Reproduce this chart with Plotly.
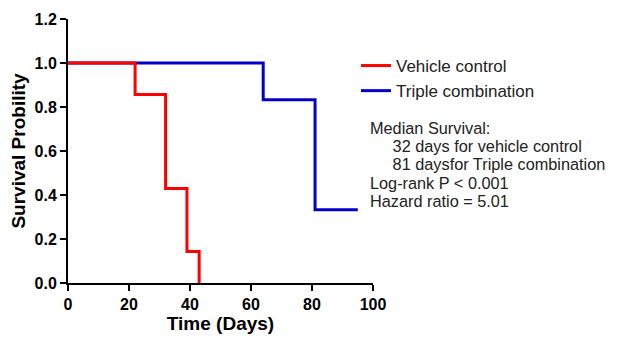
import plotly.graph_objects as go

# Data
vehicle_days = [0, 22, 32, 39, 43]
vehicle_surv = [1.0, 0.857, 0.429, 0.143, 0.0]
triple_days = [0, 64, 81, 95]
triple_surv = [1.0, 0.833, 0.333, 0.333]

x_ticks = [0, 20, 40, 60, 80, 100]
y_ticks = [0.0, 0.2, 0.4, 0.6, 0.8, 1.0, 1.2]

stats_lines = [
    "Median Survival:",
    "\u00a0\u00a0\u00a0\u00a0\u00a032 days for vehicle control",
    "\u00a0\u00a0\u00a0\u00a0\u00a081 daysfor Triple combination",
    "Log-rank P < 0.001",
    "Hazard ratio = 5.01",
]

# the page body adds an 8px offset; work in window pixels
OFF = 8
WIN_W, WIN_H = 618, 337
W, H = WIN_W - OFF, WIN_H - OFF
PL, PR, PT, PB = 68, 373, 19, 283  # plot area in window pixels
ML, MT = PL - OFF, PT - OFF
MR, MB = W - (PR - OFF), H - (PB - OFF)
PW, PH = PR - PL, PB - PT

def px_x(p):
    return (p - PL) / PW

def px_y(p):
    return (PB - p) / PH

fig = go.Figure()
fig.add_trace(go.Scatter(
    x=triple_days, y=triple_surv, mode="lines", line_shape="hv",
    line=dict(color="#0000C8", width=3), name="Triple combination",
    legendrank=2, cliponaxis=False))
fig.add_trace(go.Scatter(
    x=vehicle_days, y=vehicle_surv, mode="lines", line_shape="hv",
    line=dict(color="#FF0000", width=3), name="Vehicle control",
    legendrank=1, cliponaxis=False))

font_fam = "Liberation Sans, Arial, sans-serif"
axis_common = dict(
    showline=True, linecolor="black", linewidth=2,
    ticks="outside", ticklen=6, tickwidth=2, tickcolor="black",
    showgrid=False, zeroline=False, automargin=False,
    tickfont=dict(family=font_fam, size=16, color="black", weight="bold"),
)

fig.update_layout(
    width=W, height=H,
    margin=dict(l=ML, r=MR, t=MT, b=MB, autoexpand=False),
    plot_bgcolor="white", paper_bgcolor="white",
    font=dict(family=font_fam, color="black"),
    xaxis=dict(range=[0, 100], tickvals=x_ticks,
               title=dict(text="Time (Days)", standoff=4,
                          font=dict(family=font_fam, size=19, weight="bold")),
               **axis_common),
    yaxis=dict(range=[0, 1.2], tickvals=y_ticks, tickformat=".1f",
               title=dict(text="Survival Probility", standoff=4,
                          font=dict(family=font_fam, size=19, weight="bold")),
               **axis_common),
    legend=dict(x=px_x(356), y=px_y(48), xanchor="left", yanchor="top",
                font=dict(family=font_fam, size=17, color="#222"),
                bgcolor="rgba(0,0,0,0)", tracegroupgap=0),
    showlegend=True,
)

centers = [128, 146, 164, 183, 201]
for txt, c in zip(stats_lines, centers):
    fig.add_annotation(
        xref="paper", yref="paper", x=px_x(368), y=px_y(c),
        xanchor="left", yanchor="middle", showarrow=False,
        text=txt, font=dict(family=font_fam, size=16.3, color="#222"))

fig.write_html("out.html")
